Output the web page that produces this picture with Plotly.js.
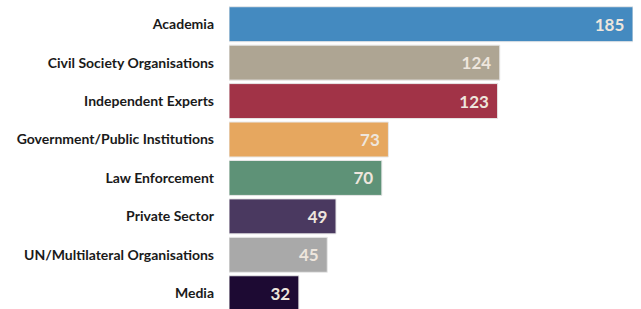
<!DOCTYPE html>
<html><head><meta charset="utf-8">
<script src="https://cdn.plot.ly/plotly-3.0.1.min.js"></script>
<style>html,body{margin:0;padding:0;background:#fff}</style>
</head><body>
<div id="chart" style="width:641px;height:309px"></div>
<script>
// Top-to-bottom order as in the picture
const categories = ["Academia","Civil Society Organisations","Independent Experts","Government/Public Institutions","Law Enforcement","Private Sector","UN/Multilateral Organisations","Media"];
const counts = [185,124,123,73,70,49,45,32];
const barColors = ["#448AC0","#AEA593","#A13347","#E6A75F","#5E9277","#4A3960","#A9A9A9","#1D0A33"];

const y = categories.slice().reverse();
const x = counts.slice().reverse();
const colors = barColors.slice().reverse();

const trace = {
  type: "bar",
  orientation: "h",
  x: x,
  y: y,
  marker: {color: colors, line: {color: "#e8e8e8", width: 1}},
  width: 0.91,
  text: x.map(v => String(v)),
  texttemplate: "%{text}\u2004",
  textposition: "inside",
  insidetextanchor: "end",
  textangle: 0,
  insidetextfont: {family: "Lato", size: 17, color: "#EEE6DD", weight: 700},
  hoverinfo: "none"
};

const layout = {
  width: 641, height: 309,
  margin: {l: 229, r: 8, t: 5, b: 0},
  paper_bgcolor: "#fff", plot_bgcolor: "#fff",
  showlegend: false,
  xaxis: {range: [0, 185], visible: false, fixedrange: true},
  yaxis: {
    type: "category",
    range: [-0.41, 7.5],
    showgrid: false, zeroline: false, showline: false,
    ticks: "", ticklabelstandoff: 14,
    tickfont: {family: "Lato", size: 14, color: "#1a1a1a", weight: 700}
  },
  font: {family: "Lato"}
};

Plotly.newPlot("chart", [trace], layout, {displayModeBar: false, staticPlot: true});
</script>
</body></html>
